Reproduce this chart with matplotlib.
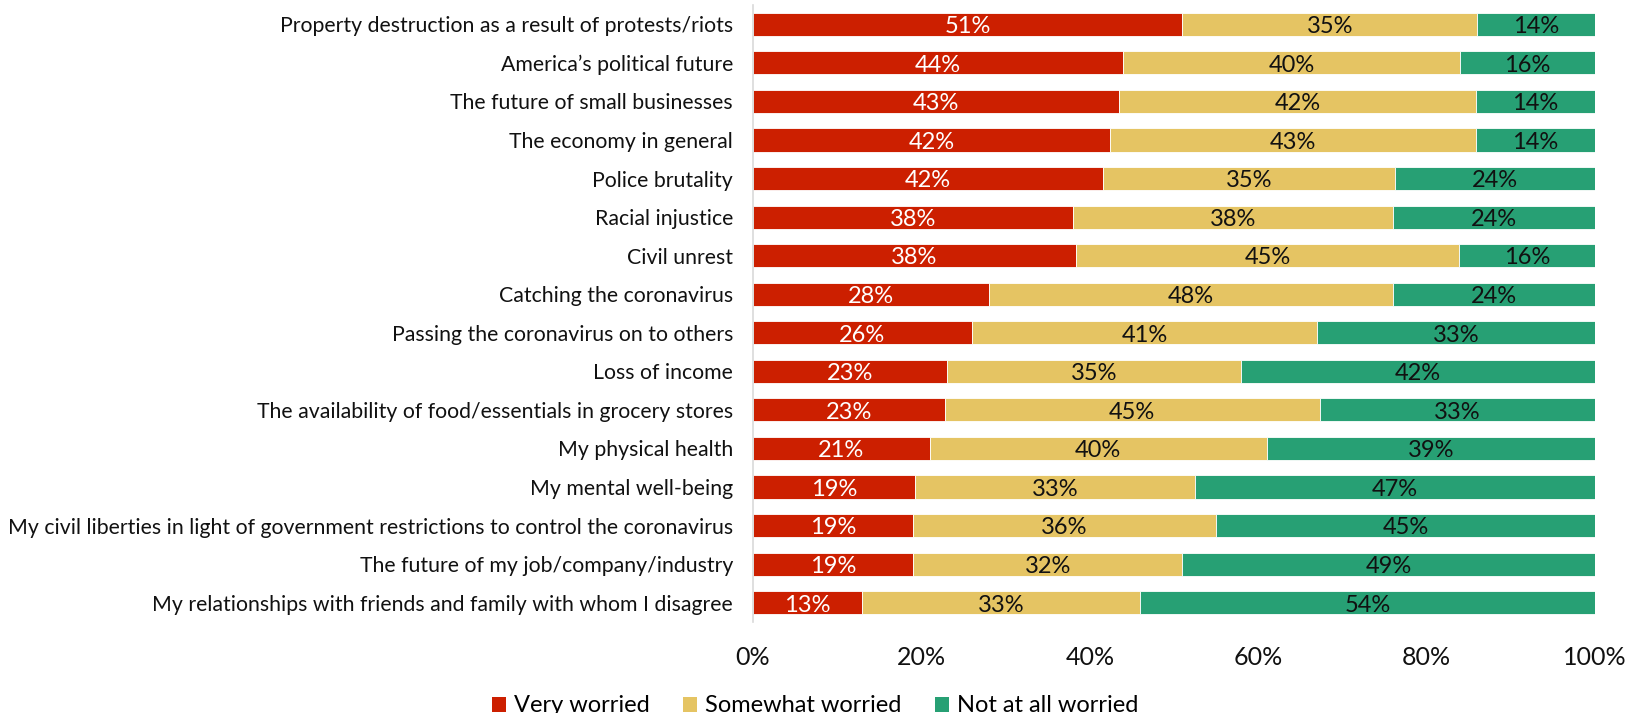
import matplotlib
matplotlib.use("Agg")
import matplotlib.pyplot as plt
from matplotlib.patches import Patch
import numpy as np

plt.rcParams['font.family'] = ['Lato', 'DejaVu Sans']

categories = [
    "Property destruction as a result of protests/riots",
    "America\u2019s political future",
    "The future of small businesses",
    "The economy in general",
    "Police brutality",
    "Racial injustice",
    "Civil unrest",
    "Catching the coronavirus",
    "Passing the coronavirus on to others",
    "Loss of income",
    "The availability of food/essentials in grocery stores",
    "My physical health",
    "My mental well-being",
    "My civil liberties in light of government restrictions to control the coronavirus",
    "The future of my job/company/industry",
    "My relationships with friends and family with whom I disagree",
]
very_worried = [51, 44, 43, 42, 42, 38, 38, 28, 26, 23, 23, 21, 19, 19, 19, 13]
somewhat_worried = [35, 40, 42, 43, 35, 38, 45, 48, 41, 35, 45, 40, 33, 36, 32, 33]
not_worried = [14, 16, 14, 14, 24, 24, 16, 24, 33, 42, 33, 39, 47, 45, 49, 54]
series_names = ["Very worried", "Somewhat worried", "Not at all worried"]
x_ticks = [0, 20, 40, 60, 80, 100]

colors = ["#CC1F00", "#E5C463", "#27A074"]
text_colors = ["white", "#111111", "#111111"]

raw = np.array([very_worried, somewhat_worried, not_worried], dtype=float)
share = raw / raw.sum(axis=0) * 100  # 100% stacked widths

W, H = 1632, 713
fig = plt.figure(figsize=(W / 100, H / 100), dpi=100)
ax = fig.add_axes([753 / W, 1 - 622 / H, (1595 - 753) / W, (622 - 5) / H])

y = np.arange(len(categories))
left = np.zeros(len(categories))
for i in range(3):
    bars = ax.barh(y, share[i], left=left, height=0.6, color=colors[i],
                   edgecolor="white", linewidth=0.6)
    for j, b in enumerate(bars):
        ax.text(left[j] + share[i][j] / 2, y[j] + 0.06, f"{int(raw[i][j])}%",
                ha="center", va="center", color=text_colors[i], fontsize=17)
    left += share[i]

ax.set_ylim(len(categories) - 0.5, -0.5)
ax.set_xlim(0, 100)
ax.set_yticks(y)
ax.set_yticklabels(categories, fontsize=15.3, color="#111111")
ax.set_xticks(x_ticks)
ax.set_xticklabels([f"{t}%" for t in x_ticks], fontsize=18, color="#111111")
ax.tick_params(axis="both", length=0)
ax.tick_params(axis="x", pad=17)
ax.tick_params(axis="y", pad=14.4)
for s in ["top", "right", "bottom"]:
    ax.spines[s].set_visible(False)
ax.spines["left"].set_color("#D9D9D9")
ax.spines["left"].set_linewidth(1.2)

handles = [Patch(facecolor=c, edgecolor="none") for c in colors]
fig.legend(handles, series_names, loc="center", bbox_to_anchor=(815 / W, 1 - 706 / H),
           ncol=3, frameon=False, fontsize=17, handlelength=0.6, handleheight=0.6,
           handletextpad=0.35, columnspacing=1.4, borderpad=0, borderaxespad=0)

fig.savefig("out.png", dpi=100)
